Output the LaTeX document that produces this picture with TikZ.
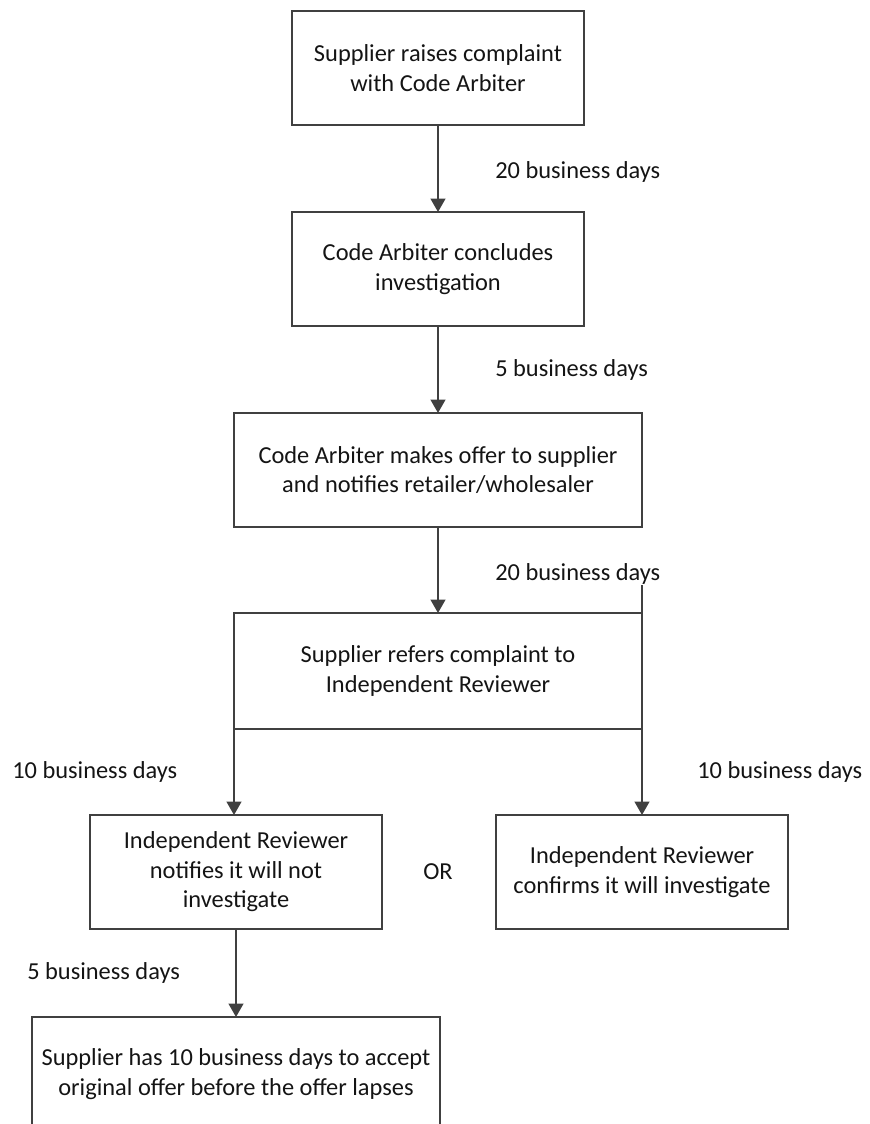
\documentclass[tikz,border=0pt]{standalone}
\usepackage{fontspec}
\setmainfont{Carlito}
\usetikzlibrary{arrows.meta,calc}
\definecolor{LineClr}{rgb}{0.25,0.25,0.25}
\definecolor{TextClr}{rgb}{0.08,0.08,0.08}

\begin{document}
\begin{tikzpicture}[x=0.75pt,y=-0.75pt,
  font={\fontsize{18.3}{22.2}\selectfont},
  Box/.style={draw=LineClr,line width=1.5pt,align=center,text=TextClr,inner sep=0pt,outer sep=0pt,minimum height=85.5pt},
  BoxN/.style={Box,minimum width=219pt},
  BoxW/.style={Box,minimum width=306pt},
  DayLbl/.style={anchor=west,text=TextClr,inner sep=0pt},
  Flow/.style={draw=LineClr,line width=1.5pt,-{Triangle[width=11pt,length=10pt]}},
  Link/.style={draw=LineClr,line width=1.5pt}]
\clip (0,0) rectangle (869,1124);

\node[BoxN] (raise) at (438,68) {Supplier raises complaint\\with Code Arbiter};
\node[BoxN] (conclude) at (438,269) {Code Arbiter concludes\\investigation};
\node[BoxW] (offer) at (438,470) {Code Arbiter makes offer to supplier\\and notifies retailer/wholesaler};
\node[BoxW,minimum height=87pt] (refer) at (438,671) {Supplier refers complaint to\\Independent Reviewer};
\node[BoxN] (notinv) at (236,872) {Independent Reviewer\\notifies it will not\\investigate};
\node[BoxN] (willinv) at (642,872) {Independent Reviewer\\confirms it will investigate};
\node[BoxW] (accept) at (236,1074) {Supplier has 10 business days to accept\\original offer before the offer lapses};

\node[DayLbl] (days20a) at (495,172) {20 business days};
\node[DayLbl] (days5a) at (495,370) {5 business days};
\node[DayLbl] (days20b) at (495,574) {20 business days};
\node[DayLbl] (days10a) at (12,772) {10 business days};
\node[DayLbl] (days10b) at (697,772) {10 business days};
\node[DayLbl] (days5b) at (27,973) {5 business days};
\node[text=TextClr] (orlbl) at (438,872) {OR};

\coordinate (stub) at (642,585);

\draw[Flow] (raise) -- (conclude);
\draw[Flow] (conclude) -- (offer);
\draw[Flow] (offer) -- (refer);
\draw[Link] (stub) -- (stub |- refer.north);
\draw[Flow] (refer.south west) -- (refer.south west |- notinv.north);
\draw[Flow] (refer.south east) -- (refer.south east |- willinv.north);
\draw[Flow] (notinv) -- (accept);

\end{tikzpicture}
\end{document}
